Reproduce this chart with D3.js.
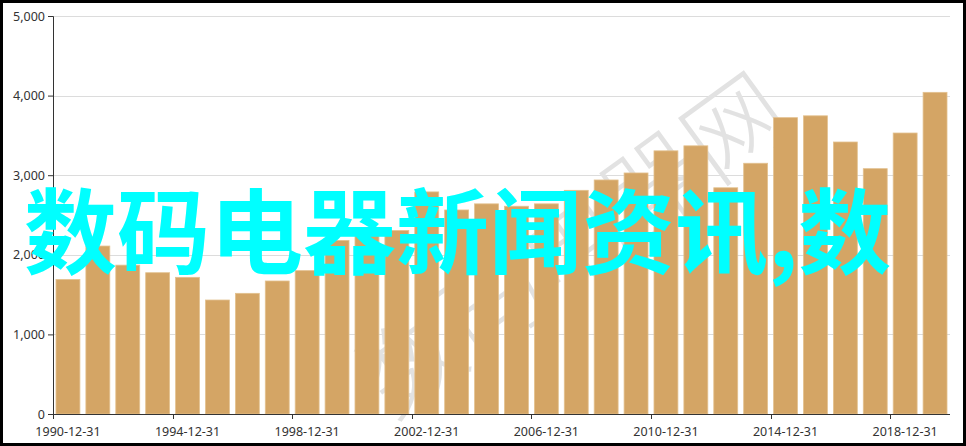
<!DOCTYPE html>
<html>
<head>
<meta charset="utf-8">
<script src="https://cdn.jsdelivr.net/npm/d3@7"></script>
<style>
  html, body { margin: 0; padding: 0; background: #fff; }
  #chart { width: 966px; height: 446px; }
</style>
</head>
<body>
<div id="chart"></div>
<script>
// yearly values
const years = ["1990","1991","1992","1993","1994","1995","1996","1997","1998","1999",
               "2000","2001","2002","2003","2004","2005","2006","2007","2008","2009",
               "2010","2011","2012","2013","2014","2015","2016","2017","2018","2019"];
const values = [1690, 2110, 1870, 1775, 1717, 1432, 1516, 1671, 1801, 2180,
                2250, 2305, 2790, 2563, 2640, 2610, 2640, 2810, 2940, 3028,
                3306, 3369, 2842, 3150, 3723, 3746, 3417, 3082, 3530, 4041];
const yTicks = [0, 1000, 2000, 3000, 4000, 5000];
const overlayText = "数码电器新闻资讯,数";
const watermarkText = "数码电器网";

function plotBars(){
    const W = 966, H = 446;
    const margin = { top: 16, right: 16, bottom: 32, left: 53 },
        width = W - margin.left - margin.right,
        height = H - margin.top - margin.bottom;

    const root = d3.select("#chart").append("svg")
        .attr("width", W)
        .attr("height", H);

    // outer frame
    root.append("rect")
        .attr("x", 1.5).attr("y", 1.5)
        .attr("width", W - 3).attr("height", H - 3)
        .attr("fill", "#fff")
        .attr("stroke", "#000")
        .attr("stroke-width", 3);

    const svg = root.append("g")
        .attr("transform", `translate(${margin.left},${margin.top})`);

    const x = d3.scaleBand()
        .domain(years)
        .range([0, width])
        .paddingInner(0.2)
        .paddingOuter(0.1);

    const y = d3.scaleLinear()
        .domain([0, 5000])
        .range([height, 0]);

    // grid lines
    svg.append("g")
        .selectAll("line")
        .data(yTicks.slice(1))
        .enter()
        .append("line")
        .attr("x1", 0)
        .attr("x2", width)
        .attr("y1", d => Math.round(y(d)) + 0.5)
        .attr("y2", d => Math.round(y(d)) + 0.5)
        .attr("stroke", "#dcdcdc")
        .attr("stroke-width", 1);

    // faint watermark, sits behind the bars
    svg.append("text")
        .attr("transform", `translate(${width * 0.575},${height * 0.56}) rotate(-36)`)
        .attr("text-anchor", "middle")
        .attr("dominant-baseline", "central")
        .style("font-family", "'Noto Sans CJK SC'")
        .style("font-weight", "300")
        .style("font-size", "100px")
        .attr("fill", "#e2e2e2")
        .text(watermarkText);

    // bars
    svg.selectAll(".bar")
        .data(years)
        .enter()
        .append("rect")
        .attr("class", "bar")
        .attr("x", d => x(d))
        .attr("y", (d, i) => y(values[i]))
        .attr("width", x.bandwidth())
        .attr("height", (d, i) => height - y(values[i]))
        .attr("fill", "#d4a565")
        .attr("stroke", "#e3c18f")
        .attr("stroke-width", 0.8);

    // y axis
    const yAxis = d3.axisLeft(y)
        .tickValues(yTicks)
        .tickSize(5)
        .tickPadding(3)
        .tickFormat(d3.format(","));

    const gy = svg.append("g").call(yAxis);
    gy.select(".domain").attr("stroke", "#333").attr("d", `M-5,0.5H0.5V${height}`);
    gy.selectAll(".tick line").attr("stroke", "#333");
    gy.selectAll("text")
        .style("font-family", "'Noto Sans', sans-serif")
        .style("font-size", "12.5px")
        .attr("fill", "#333");

    // x axis: ticks on band boundaries every 4 years, labels centred on bars
    const gx = svg.append("g")
        .attr("transform", `translate(0,${height})`);
    gx.append("line")
        .attr("x1", 0).attr("x2", width)
        .attr("y1", 0.5).attr("y2", 0.5)
        .attr("stroke", "#333");

    const labelled = years.filter((d, i) => i % 4 === 0);
    gx.selectAll(".xt")
        .data(labelled)
        .enter()
        .append("line")
        .attr("class", "xt")
        .attr("x1", d => Math.round(x(d) - x.step() * x.paddingOuter()) + 0.5)
        .attr("x2", d => Math.round(x(d) - x.step() * x.paddingOuter()) + 0.5)
        .attr("y1", 0)
        .attr("y2", 5)
        .attr("stroke", "#333");

    gx.selectAll(".xl")
        .data(labelled)
        .enter()
        .append("text")
        .attr("class", "xl")
        .attr("x", d => x(d) + x.bandwidth() / 2)
        .attr("y", 22)
        .attr("text-anchor", "middle")
        .style("font-family", "'Noto Sans', sans-serif")
        .style("font-size", "12.5px")
        .attr("fill", "#333")
        .text(d => d + "-12-31");

    // big cyan overlay text
    root.append("text")
        .attr("x", 24)
        .attr("y", 267)
        .style("font-family", "'Noto Sans CJK SC'")
        .style("font-weight", "bold")
        .style("font-size", "93px")
        .attr("fill", "#00ffff")
        .text(overlayText);
}

plotBars();
</script>
</body>
</html>
